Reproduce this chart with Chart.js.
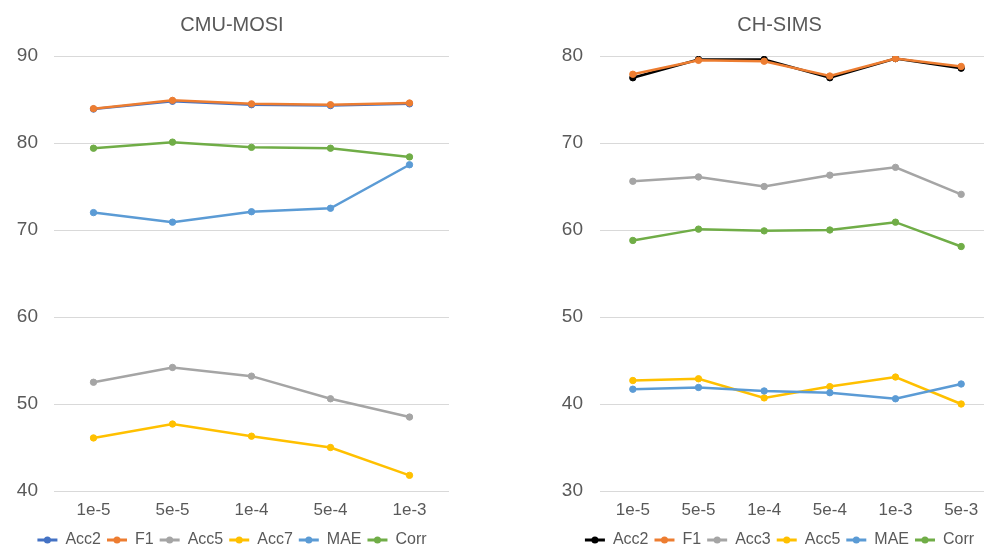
<!DOCTYPE html>
<html>
<head>
<meta charset="utf-8">
<script src="https://cdn.jsdelivr.net/npm/chart.js@4.4.1/dist/chart.umd.min.js"></script>
<style>
    html, body { margin: 0; padding: 0; background: #fff; overflow: hidden; width: 984px; height: 549px; }
    canvas { position: absolute; top: 0; }
    #mosi_chart { left: 0; }
    #sims_chart { left: 492px; }
</style>
</head>
<body>
<canvas id="mosi_chart" width="492" height="549"></canvas>
<canvas id="sims_chart" width="507" height="549"></canvas>
<script>
// ############################### DATA ###############################

// CMU-MOSI, learning rate sweep
var mosiLabels = ['1e-5', '5e-5', '1e-4', '5e-4', '1e-3'];
var mosiNames = ['Acc2', 'F1', 'Acc5', 'Acc7', 'MAE', 'Corr'];
var mosiAcc2 = [83.9, 84.8, 84.4, 84.3, 84.5];
var mosiF1 = [83.95, 84.9, 84.5, 84.4, 84.6];
var mosiAcc5 = [52.5, 54.2, 53.2, 50.6, 48.5];
var mosiAcc7 = [46.1, 47.7, 46.3, 45.0, 41.8];
var mosiMAE = [72.0, 70.9, 72.1, 72.5, 77.5];
var mosiCorr = [79.4, 80.1, 79.5, 79.4, 78.4];

// CH-SIMS, learning rate sweep
var simsLabels = ['1e-5', '5e-5', '1e-4', '5e-4', '1e-3', '5e-3'];
var simsNames = ['Acc2', 'F1', 'Acc3', 'Acc5', 'MAE', 'Corr'];
var simsAcc2 = [77.5, 79.6, 79.6, 77.5, 79.7, 78.6];
var simsF1 = [77.9, 79.5, 79.4, 77.7, 79.7, 78.8];
var simsAcc3 = [65.6, 66.1, 65.0, 66.3, 67.2, 64.1];
var simsAcc5 = [42.7, 42.9, 40.7, 42.0, 43.1, 40.0];
var simsMAE = [41.7, 41.9, 41.5, 41.3, 40.6, 42.3];
var simsCorr = [58.8, 60.1, 59.9, 60.0, 60.9, 58.1];

var mosiColors = ['#4472C4', '#ED7D31', '#A5A5A5', '#FFC000', '#5B9BD5', '#70AD47'];
var simsColors = ['#000000', '#ED7D31', '#A5A5A5', '#FFC000', '#5B9BD5', '#70AD47'];

// ############################### CHART SETUP ###############################

Chart.defaults.font.family = '"Liberation Sans", Arial, sans-serif';
Chart.defaults.color = '#595959';

// legend marker = short line with a dot in the middle, like the office charts
var legendDots = {
    id: 'legendDots',
    afterDraw: function (chart) {
        var legend = chart.legend;
        if (!legend || !legend.legendHitBoxes) return;
        var ctx = chart.ctx;
        var boxW = legend.options.labels.boxWidth;
        legend.legendHitBoxes.forEach(function (hb, i) {
            var item = legend.legendItems[i];
            ctx.save();
            ctx.fillStyle = item.strokeStyle;
            ctx.beginPath();
            ctx.arc(hb.left + boxW / 2, hb.top + hb.height / 2, 3.5, 0, Math.PI * 2);
            ctx.fill();
            ctx.restore();
        });
    }
};

function buildChart(canvasId, title, labels, names, series, colors, yMin, yMax, pad, axisW, tickPad) {
    var datasets = [];
    for (var i = 0; i < series.length; i++) {
        datasets.push({
            label: names[i],
            data: series[i],
            borderColor: colors[i],
            backgroundColor: colors[i],
            pointBackgroundColor: colors[i],
            pointBorderColor: colors[i],
            borderWidth: 2.5,
            pointRadius: 3.2,
            pointBorderWidth: 1,
            tension: 0,
            // later series on top, as in the original
            order: series.length - i
        });
    }

    return new Chart(document.getElementById(canvasId), {
        type: 'line',
        data: { labels: labels, datasets: datasets },
        options: {
            responsive: false,
            animation: false,
            layout: { padding: { left: pad.left, right: pad.right, top: 0, bottom: pad.bottom } },
            plugins: {
                title: {
                    display: true,
                    text: title,
                    color: '#595959',
                    font: { size: 20, weight: 'normal' },
                    padding: { top: 13, bottom: 19 }
                },
                legend: {
                    position: 'bottom',
                    labels: {
                        boxWidth: 20,
                        boxHeight: 3,
                        padding: 6,
                        color: '#595959',
                        font: { size: 16 },
                        sort: function (a, b) { return a.datasetIndex - b.datasetIndex; },
                        generateLabels: function (chart) {
                            var items = Chart.defaults.plugins.legend.labels.generateLabels(chart);
                            items.forEach(function (it) { it.lineWidth = 0; });
                            return items;
                        }
                    }
                },
                tooltip: { enabled: false }
            },
            scales: {
                x: {
                    offset: true,
                    grid: { display: false, drawTicks: false },
                    border: { display: false },
                    ticks: { font: { size: 17 }, color: '#595959', padding: 9 },
                    afterFit: function (scale) { scale.height = 35; }
                },
                y: {
                    min: yMin,
                    max: yMax,
                    grid: { color: '#D9D9D9', lineWidth: 1, drawTicks: false },
                    border: { display: false },
                    ticks: { stepSize: 10, font: { size: 19 }, color: '#595959', padding: tickPad },
                    afterFit: function (scale) { scale.width = axisW; }
                }
            }
        },
        plugins: [legendDots]
    });
}

var mosiChart = buildChart('mosi_chart', 'CMU-MOSI', mosiLabels, mosiNames,
    [mosiAcc2, mosiF1, mosiAcc5, mosiAcc7, mosiMAE, mosiCorr], mosiColors,
    40, 90, { left: 15, right: 43, bottom: -9 }, 39, 16);

var simsChart = buildChart('sims_chart', 'CH-SIMS', simsLabels, simsNames,
    [simsAcc2, simsF1, simsAcc3, simsAcc5, simsMAE, simsCorr], simsColors,
    30, 80, { left: 68, right: 0, bottom: -9 }, 40, 17);
</script>
</body>
</html>
